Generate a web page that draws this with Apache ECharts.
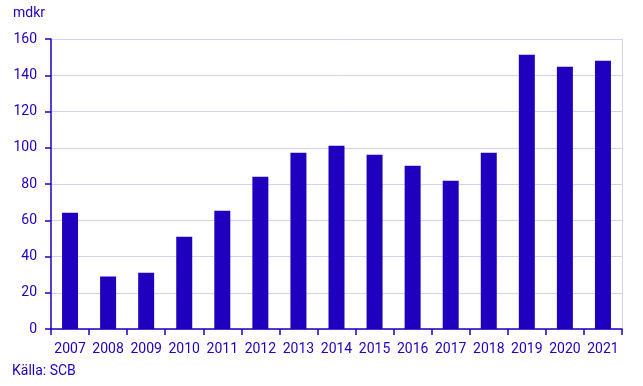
<!DOCTYPE html>
<html><head><meta charset="utf-8">
<script src="https://cdn.jsdelivr.net/npm/echarts@6/dist/echarts.min.js"></script>
<style>html,body{margin:0;padding:0;background:#fff}#c{width:643px;height:386px}</style>
</head><body><div id="c"></div>
<script>
const categories = ['2007','2008','2009','2010','2011','2012','2013','2014','2015','2016','2017','2018','2019','2020','2021'];
const values = [64.2, 28.9, 31.0, 50.9, 65.3, 84.0, 97.3, 101.1, 96.2, 90.1, 81.8, 97.2, 151.3, 144.7, 148.0];
const yTicks = [0, 20, 40, 60, 80, 100, 120, 140, 160];
const unitLabel = 'mdkr';
const sourceLabel = 'Källa: SCB';

const blue = '#1e00be';
const chart = echarts.init(document.getElementById('c'), null, {renderer: 'canvas'});
chart.setOption({
  animation: false,
  textStyle: {fontFamily: 'Roboto'},
  grid: {left: 51, right: 21, top: 39, bottom: 57, containLabel: false},
  graphic: [
    {type: 'text', left: 13, top: 6, style: {text: unitLabel, fill: blue, font: '14px Roboto'}},
    {type: 'text', left: 12, top: 364, style: {text: sourceLabel, fill: blue, font: '14px Roboto'}}
  ],
  xAxis: {
    type: 'category',
    data: categories,
    axisLine: {lineStyle: {color: blue, width: 1.5}},
    axisTick: {show: true, length: 6, lineStyle: {color: blue, width: 1.5}},
    axisLabel: {color: blue, fontSize: 14, fontFamily: 'Roboto', margin: 13, interval: 0}
  },
  yAxis: [{
    type: 'value',
    min: yTicks[0], max: yTicks[yTicks.length - 1], interval: 20,
    axisLine: {show: true, lineStyle: {color: blue, width: 1.5}},
    axisTick: {show: true, length: 6, lineStyle: {color: blue, width: 1.5}},
    axisLabel: {color: blue, fontSize: 14, fontFamily: 'Roboto', margin: 14},
    splitLine: {lineStyle: {color: '#d4d0f0', width: 1}}
  }, {
    type: 'value',
    position: 'right',
    min: yTicks[0], max: yTicks[yTicks.length - 1], interval: 20,
    axisLine: {show: true, lineStyle: {color: '#d4d0f0', width: 1}},
    axisTick: {show: false}, axisLabel: {show: false}, splitLine: {show: false}
  }],
  series: [{
    type: 'bar',
    data: values,
    barWidth: '42%',
    itemStyle: {color: blue}
  }]
});
</script></body></html>
